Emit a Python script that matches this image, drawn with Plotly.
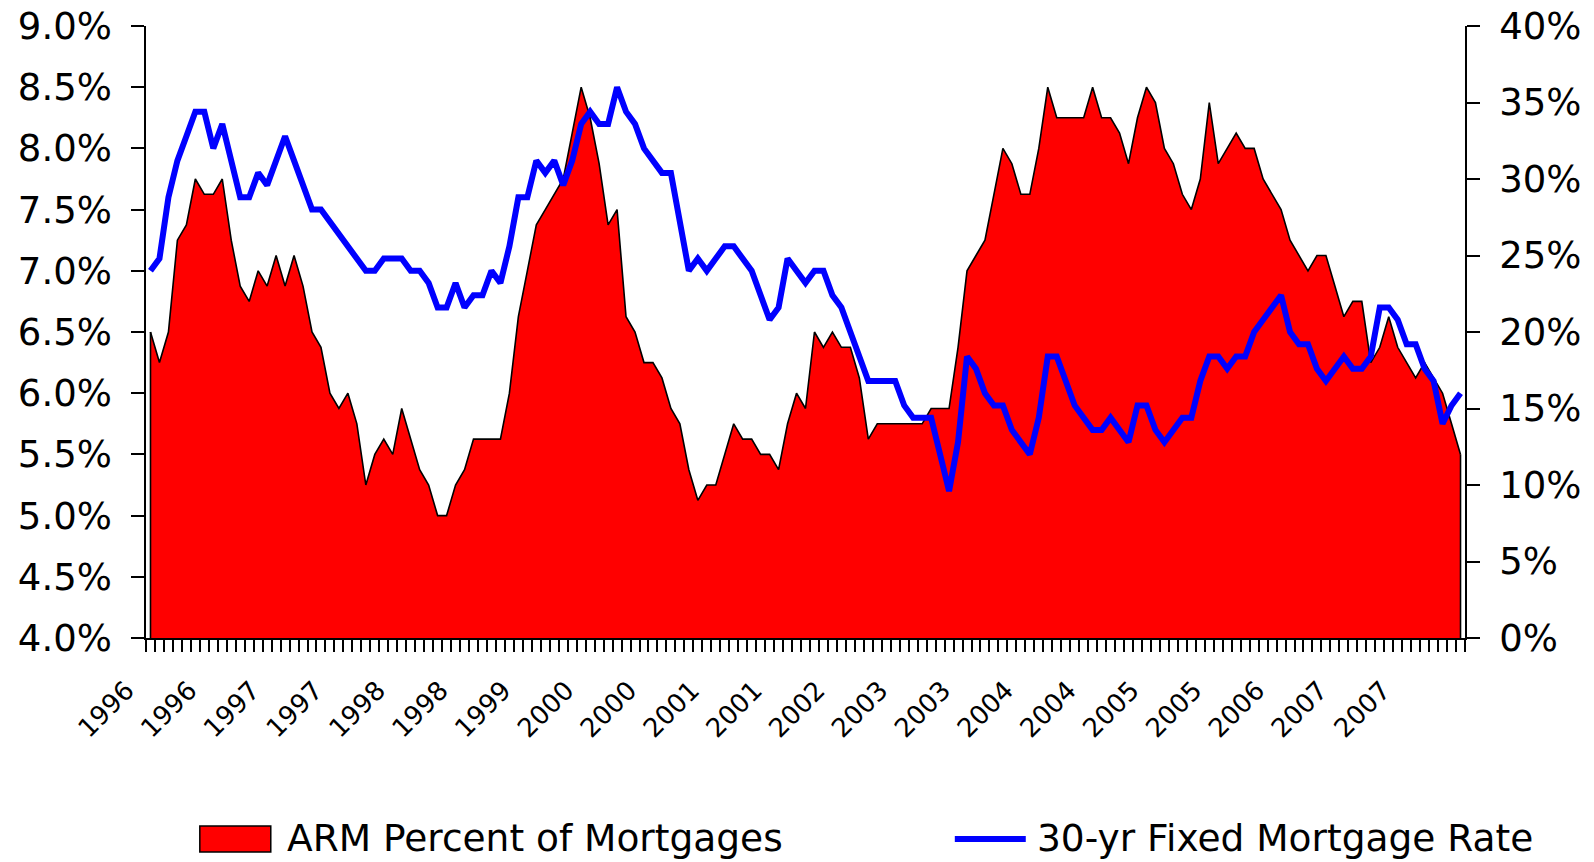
import plotly.graph_objects as go

# ---- data (monthly, Jan 1996 .. Mar 2008) ----
months = [f"{y}-{m:02d}" for y in range(1996, 2009) for m in range(1, 13)][:147]

arm_pct = [
    20, 18, 20, 26, 27, 30, 29, 29, 30, 26, 23, 22,   # 1996
    24, 23, 25, 23, 25, 23, 20, 19, 16, 15, 16, 14,   # 1997
    10, 12, 13, 12, 15, 13, 11, 10, 8, 8, 10, 11,     # 1998
    13, 13, 13, 13, 16, 21, 24, 27, 28, 29, 30, 33,   # 1999
    36, 34, 31, 27, 28, 21, 20, 18, 18, 17, 15, 14,   # 2000
    11, 9, 10, 10, 12, 14, 13, 13, 12, 12, 11, 14,    # 2001
    16, 15, 20, 19, 20, 19, 19, 17, 13, 14, 14, 14,   # 2002
    14, 14, 14, 15, 15, 15, 19, 24, 25, 26, 29, 32,   # 2003
    31, 29, 29, 32, 36, 34, 34, 34, 34, 36, 34, 34,   # 2004
    33, 31, 34, 36, 35, 32, 31, 29, 28, 30, 35, 31,   # 2005
    32, 33, 32, 32, 30, 29, 28, 26, 25, 24, 25, 25,   # 2006
    23, 21, 22, 22, 18, 19, 21, 19, 18, 17, 18, 17,   # 2007
    16, 14, 12,                                       # 2008
]

fixed_rate = [
    7.0, 7.1, 7.6, 7.9, 8.1, 8.3, 8.3, 8.0, 8.2, 7.9, 7.6, 7.6,   # 1996
    7.8, 7.7, 7.9, 8.1, 7.9, 7.7, 7.5, 7.5, 7.4, 7.3, 7.2, 7.1,   # 1997
    7.0, 7.0, 7.1, 7.1, 7.1, 7.0, 7.0, 6.9, 6.7, 6.7, 6.9, 6.7,   # 1998
    6.8, 6.8, 7.0, 6.9, 7.2, 7.6, 7.6, 7.9, 7.8, 7.9, 7.7, 7.9,   # 1999
    8.2, 8.3, 8.2, 8.2, 8.5, 8.3, 8.2, 8.0, 7.9, 7.8, 7.8, 7.4,   # 2000
    7.0, 7.1, 7.0, 7.1, 7.2, 7.2, 7.1, 7.0, 6.8, 6.6, 6.7, 7.1,   # 2001
    7.0, 6.9, 7.0, 7.0, 6.8, 6.7, 6.5, 6.3, 6.1, 6.1, 6.1, 6.1,   # 2002
    5.9, 5.8, 5.8, 5.8, 5.5, 5.2, 5.6, 6.3, 6.2, 6.0, 5.9, 5.9,   # 2003
    5.7, 5.6, 5.5, 5.8, 6.3, 6.3, 6.1, 5.9, 5.8, 5.7, 5.7, 5.8,   # 2004
    5.7, 5.6, 5.9, 5.9, 5.7, 5.6, 5.7, 5.8, 5.8, 6.1, 6.3, 6.3,   # 2005
    6.2, 6.3, 6.3, 6.5, 6.6, 6.7, 6.8, 6.5, 6.4, 6.4, 6.2, 6.1,   # 2006
    6.2, 6.3, 6.2, 6.2, 6.3, 6.7, 6.7, 6.6, 6.4, 6.4, 6.2, 6.1,   # 2007
    5.75, 5.9, 6.0,                                               # 2008
]

tick_labels = ["1996", "1996", "1997", "1997", "1998", "1998", "1999",
               "2000", "2000", "2001", "2001", "2002", "2003", "2003",
               "2004", "2004", "2005", "2005", "2006", "2007", "2007"]
label_step = 7

x = list(range(len(months)))
n = len(months)

FONT = "DejaVu Sans, Verdana, sans-serif"

fig = go.Figure()

# ARM share: red area on the right axis
fig.add_trace(go.Scatter(
    x=x, y=arm_pct, yaxis="y", mode="lines",
    fill="tozeroy", fillcolor="#FF0000",
    line=dict(color="black", width=1.6),
    name="ARM Percent of Mortgages", showlegend=False,
    customdata=months, hovertemplate="%{customdata}: %{y}%<extra></extra>",
))
# vertical end edges of the area outline
fig.add_trace(go.Scatter(
    x=[x[0], x[0], None, x[-1], x[-1]],
    y=[0, arm_pct[0], None, arm_pct[-1], 0],
    yaxis="y", mode="lines", line=dict(color="black", width=1.6),
    showlegend=False, hoverinfo="skip",
))
# 30-yr fixed rate: blue line on the left axis
fig.add_trace(go.Scatter(
    x=x, y=fixed_rate, yaxis="y2", mode="lines",
    line=dict(color="#0000FF", width=6),
    name="30-yr Fixed Mortgage Rate", showlegend=False,
    customdata=months, hovertemplate="%{customdata}: %{y:.2f}%<extra></extra>",
))

tick_font = dict(family=FONT, size=37, color="black")

fig.update_layout(
    width=1594, height=862,
    margin=dict(l=146, r=129, t=26, b=224, autoexpand=False),
    paper_bgcolor="white", plot_bgcolor="white",
    xaxis=dict(
        range=[-0.5, n - 0.5],
        automargin=False,
        tickmode="array",
        tickvals=[i * label_step for i in range(len(tick_labels))],
        ticktext=tick_labels,
        tickangle=-45,
        ticks="outside", ticklen=0,
        ticklabelshift=-24, ticklabelstandoff=25,
        ticklabeloverflow="allow",
        tickfont=dict(family=FONT, size=26, color="black"),
        showgrid=False, zeroline=False,
        showline=True, linecolor="black", linewidth=1.5,
        minor=dict(ticks="outside", ticklen=12, tickcolor="black", tickwidth=1.5,
                   tickmode="array", tickvals=[i - 0.5 for i in range(n + 1)],
                   showgrid=False),
    ),
    yaxis=dict(
        side="right", range=[0, 40], dtick=5, tick0=0,
        automargin=False,
        ticksuffix="%", tickformat="d",
        ticks="outside", ticklen=13, tickcolor="black", tickwidth=1.5,
        ticklabelstandoff=12, ticklabeloverflow="allow",
        tickfont=tick_font,
        showgrid=False, zeroline=False,
        showline=True, linecolor="black", linewidth=1.5,
    ),
    yaxis2=dict(
        side="left", overlaying="y", range=[4.0, 9.0], dtick=0.5, tick0=4.0,
        automargin=False,
        ticksuffix="%", tickformat=".1f",
        ticks="outside", ticklen=13, tickcolor="black", tickwidth=1.5,
        ticklabelstandoff=12, ticklabeloverflow="allow",
        tickfont=tick_font,
        showgrid=False, zeroline=False,
        showline=True, linecolor="black", linewidth=1.5,
    ),
)

# custom legend at the bottom (paper coords relative to the plot area)
leg_y = -0.326
fig.add_shape(type="rect", xref="paper", yref="paper",
              x0=0.0408, x1=0.0946, y0=-0.3497, y1=-0.3072,
              fillcolor="#FF0000", line=dict(color="black", width=1.5))
fig.add_annotation(xref="paper", yref="paper", x=0.1055, y=leg_y,
                   xanchor="left", yanchor="middle", showarrow=False,
                   text="ARM Percent of Mortgages",
                   font=dict(family=FONT, size=37.5, color="black"))
fig.add_shape(type="line", xref="paper", yref="paper",
              x0=0.6132, x1=0.6670, y0=-0.3284, y1=-0.3284,
              line=dict(color="#0000FF", width=6))
fig.add_annotation(xref="paper", yref="paper", x=0.6740, y=leg_y,
                   xanchor="left", yanchor="middle", showarrow=False,
                   text="30-yr Fixed Mortgage Rate",
                   font=dict(family=FONT, size=37.5, color="black"))

# remove the browser's default 8px body margin so the figure fills the window
fig.write_html("out.html",
               config={"displayModeBar": False},
               post_script="document.body.style.margin='0';document.body.style.overflow='hidden';")
